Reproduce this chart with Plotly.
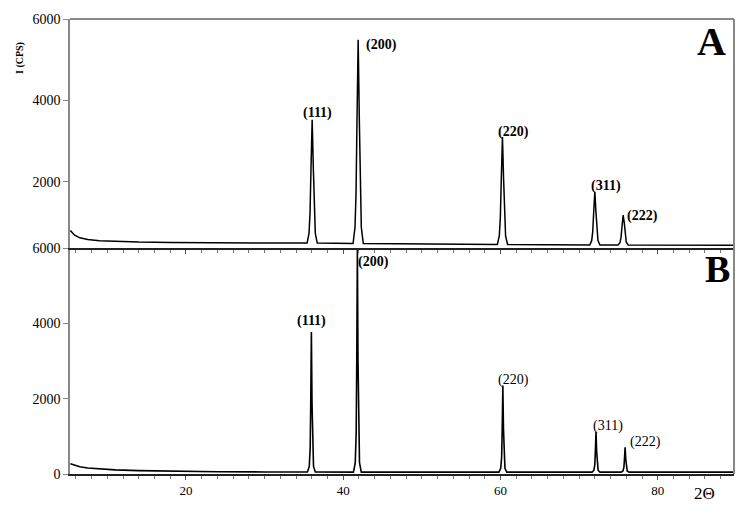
import plotly.graph_objects as go

# ---------------- data ----------------
tt_A = [5.3, 5.8, 6.5, 7.5, 9, 11, 14, 18, 24, 30, 35.4,
        35.65, 35.78, 35.9, 36.05, 36.2, 36.32, 36.45, 36.7,
        41.25, 41.5, 41.63, 41.75, 41.9, 42.05, 42.17, 42.3, 42.55,
        50, 59.6, 59.85, 59.98, 60.1, 60.25, 60.4, 60.52, 60.65, 60.9,
        66, 71.35, 71.6, 71.73, 71.85, 72.0, 72.15, 72.27, 72.4, 72.65,
        74.95, 75.2, 75.33, 75.45, 75.6, 75.75, 75.87, 76.0, 76.25,
        80, 85, 89.7]
cps_A = [800, 690, 620, 580, 550, 530, 515, 505, 495, 490,
         490, 730, 1250, 2310, 3520, 2310, 1250, 730, 490,
         480, 880, 1730, 3490, 5490, 3490, 1730, 880, 480,
         470, 455, 665, 1115, 2040, 3100, 2040, 1115, 665, 455,
         450, 445, 550, 770, 1230, 1750, 1230, 770, 550, 445,
         445, 500, 630, 880, 1180, 980, 700, 510, 445,
         440, 440, 440]

tt_B = [5.3, 5.8, 6.5, 7.5, 9, 11, 14, 18, 24, 30,
        35.45, 35.68, 35.8, 35.87, 35.95, 36.03, 36.1, 36.22, 36.45,
        41.3, 41.53, 41.65, 41.72, 41.8, 41.88, 41.95, 42.07, 42.3,
        50, 59.8, 60.03, 60.15, 60.22, 60.3, 60.38, 60.45, 60.57, 60.8,
        66, 71.65, 71.88, 72.0, 72.07, 72.15, 72.23, 72.3, 72.42, 72.65,
        75.35, 75.58, 75.7, 75.77, 75.85, 75.93, 76.0, 76.12, 76.35,
        80, 85, 89.7]
cps_B = [270, 230, 190, 160, 130, 110, 90, 70, 60, 55,
         55, 200, 700, 1900, 3770, 1900, 700, 200, 55,
         50, 300, 1100, 3000, 5950, 3000, 1100, 300, 50,
         50, 50, 150, 450, 1200, 2350, 1200, 450, 150, 50,
         50, 50, 100, 250, 600, 1120, 600, 250, 100, 50,
         50, 80, 180, 400, 710, 400, 180, 80, 50,
         50, 50, 50]

peak_labels = ["(111)", "(200)", "(220)", "(311)", "(222)"]
peaks_A_tt = [36.05, 41.9, 60.25, 72.0, 75.6]
peaks_A_cps = [3520, 5490, 3100, 1750, 1180]
peaks_B_tt = [35.95, 41.8, 60.3, 72.15, 75.85]
peaks_B_cps = [3770, 5950, 2350, 1120, 710]

y_ticks_top = [2000, 4000, 6000]
y_ticks_bottom = [0, 2000, 4000, 6000]
x_ticks = [20, 40, 60, 80]

# ---------------- styling ----------------
SERIF = "Liberation Serif"
shift_A = [(5, 7), (23, -5), (11, 5), (11, 6), (19, -1)]
shift_B = [(0, 11), (16, -12), (11, 5), (12, 6), (20, 5)]
bold_B = [True, True, False, False, False]

fig = go.Figure()
fig.add_trace(go.Scatter(x=tt_A, y=cps_A, mode="lines", xaxis="x2", yaxis="y2",
                         line=dict(color="black", width=1.5)))
fig.add_trace(go.Scatter(x=tt_B, y=cps_B, mode="lines", xaxis="x", yaxis="y",
                         line=dict(color="black", width=1.6)))

T, B_, H = 19, 34, 508
plot_h = H - T - B_
split = (H - B_ - 248) / plot_h
xcommon = dict(range=[5.25, 89.7], showgrid=False, zeroline=False, automargin=False,
               ticks="outside", ticklen=4, tickcolor="#555",
               minor=dict(dtick=2, ticks="outside", ticklen=3, tickcolor="#777"),
               showline=True, linecolor="#222", linewidth=1.5)
ycommon = dict(showgrid=False, zeroline=False, automargin=False,
               ticks="outside", ticklen=5, tickcolor="#888",
               showline=True, linecolor="#888", linewidth=1.5,
               tickfont=dict(family=SERIF, size=14, color="black"))
fig.update_layout(
    width=753, height=H, autosize=False,
    margin=dict(l=70, r=19, t=T, b=B_, autoexpand=False),
    plot_bgcolor="white", paper_bgcolor="white",
    showlegend=False,
    xaxis=dict(**xcommon, anchor="y", tickvals=x_ticks,
               tickfont=dict(family=SERIF, size=13, color="black")),
    xaxis2=dict(**xcommon, anchor="y2", matches="x", showticklabels=False,
                tickvals=x_ticks),
    yaxis=dict(**ycommon, domain=[0, split], range=[0, 6000], tickvals=y_ticks_bottom),
    yaxis2=dict(**ycommon, domain=[split, 1], range=[370, 6000], tickvals=y_ticks_top),
)

# border lines (top and right)
fig.add_shape(type="line", xref="paper", yref="paper", x0=0, x1=1, y0=1, y1=1,
              line=dict(color="#888", width=2))
fig.add_shape(type="line", xref="paper", yref="paper", x0=1, x1=1, y0=0, y1=1,
              line=dict(color="#888", width=2))

# peak labels
for lab, x, y, (dx, dy) in zip(peak_labels, peaks_A_tt, peaks_A_cps, shift_A):
    fig.add_annotation(x=x, y=y, xref="x2", yref="y2", text="<b>%s</b>" % lab,
                       showarrow=False, xshift=dx, yshift=dy,
                       font=dict(family=SERIF, size=14, color="black"))
for lab, x, y, (dx, dy), b in zip(peak_labels, peaks_B_tt, peaks_B_cps, shift_B, bold_B):
    fig.add_annotation(x=x, y=y, xref="x", yref="y",
                       text=("<b>%s</b>" % lab) if b else lab,
                       showarrow=False, xshift=dx, yshift=dy,
                       font=dict(family=SERIF, size=14, color="black"))

# panel letters
fig.add_annotation(x=1, y=1, xref="paper", yref="paper", text="<b>A</b>",
                   showarrow=False, xanchor="right", yanchor="top", xshift=-6, yshift=2,
                   font=dict(family=SERIF, size=40, color="black"))
fig.add_annotation(x=1, y=split, xref="paper", yref="paper", text="<b>B</b>",
                   showarrow=False, xanchor="right", yanchor="top", xshift=-2, yshift=2,
                   font=dict(family=SERIF, size=38, color="black"))

# axis titles
fig.add_annotation(x=(12 - 70) / 664, y=1 - (40 - T) / plot_h, xref="paper", yref="paper",
                   text="<b>I (CPS)</b>", showarrow=False, textangle=-90,
                   font=dict(family=SERIF, size=10, color="black"))
fig.add_annotation(x=(717 - 70) / 664, y=-(493 - (H - B_)) / plot_h,
                   xref="paper", yref="paper", text="2Θ",
                   showarrow=False, yanchor="middle",
                   font=dict(family=SERIF, size=17, color="black"))

fig.write_html("out.html", config={"displayModeBar": False},
               post_script="document.body.style.margin='0';document.body.style.overflow='hidden';")
